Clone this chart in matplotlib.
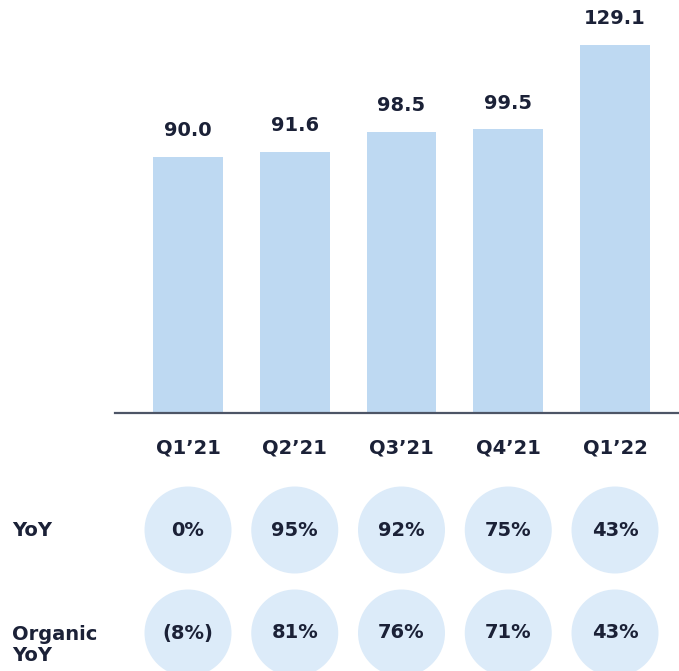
import matplotlib.pyplot as plt
from matplotlib.patches import Ellipse

# --- data ---
quarters = ["Q1\u201921", "Q2\u201921", "Q3\u201921", "Q4\u201921", "Q1\u201922"]
revenue = [90.0, 91.6, 98.5, 99.5, 129.1]
yoy = ["0%", "95%", "92%", "75%", "43%"]
organic_yoy = ["(8%)", "81%", "76%", "71%", "43%"]

# --- style ---
W, H = 679, 671
bar_color = "#bed9f2"
circle_color = "#dcebf9"
text_color = "#1b2137"
axis_color = "#4d5566"
plt.rcParams['font.family'] = ['DejaVu Sans']

fig = plt.figure(figsize=(W / 100, H / 100), dpi=100)

# pixel layout
base_y = 413
x_left, x_right = 115, 679
c0, step = 188, 106.75
xlim = (-(c0 - x_left) / step, (x_right - c0) / step)
px_per_unit = 2.85

# --- bar panel ---
ax = fig.add_axes([x_left / W, (H - base_y) / H, (x_right - x_left) / W, base_y / H])
x = list(range(len(quarters)))
bars = ax.bar(x, revenue, width=0.655, color=bar_color)
ax.set_xlim(*xlim)
ax.set_ylim(0, base_y / px_per_unit)
for b, v in zip(bars, revenue):
    ax.annotate(f"{v:.1f}", (b.get_x() + b.get_width() / 2, v),
                xytext=(0, 19), textcoords="offset points",
                ha="center", va="center", fontsize=14, fontweight="bold",
                color=text_color)
for s in ["top", "right", "left"]:
    ax.spines[s].set_visible(False)
ax.spines["bottom"].set_color(axis_color)
ax.spines["bottom"].set_linewidth(1.6)
ax.set_yticks([])
ax.set_xticks(x)
ax.set_xticklabels(quarters, fontsize=14, fontweight="bold", color=text_color)
ax.tick_params(axis="x", length=0, pad=18)

# --- growth circles panel ---
ax2 = fig.add_axes([x_left / W, 0, (x_right - x_left) / W, (H - base_y) / H])
ax2.set_xlim(*xlim)
ax2.set_ylim(H, base_y)
ax2.axis("off")
circ_w = 87 / step
circ_h = 87
for row_y, vals in [(530, yoy), (633, organic_yoy)]:
    for i, t in enumerate(vals):
        ax2.add_patch(Ellipse((i, row_y), circ_w, circ_h, color=circle_color, lw=0))
        ax2.text(i, row_y, t, ha="center", va="center", fontsize=14,
                 fontweight="bold", color=text_color)

fig.text(12 / W, 1 - 530 / H, "YoY", ha="left", va="center", fontsize=14,
         fontweight="bold", color=text_color)
fig.text(12 / W, 1 - 645 / H, "Organic\nYoY", ha="left", va="center", fontsize=14,
         fontweight="bold", color=text_color, linespacing=1.15)

fig.savefig("out.png", dpi=100)
